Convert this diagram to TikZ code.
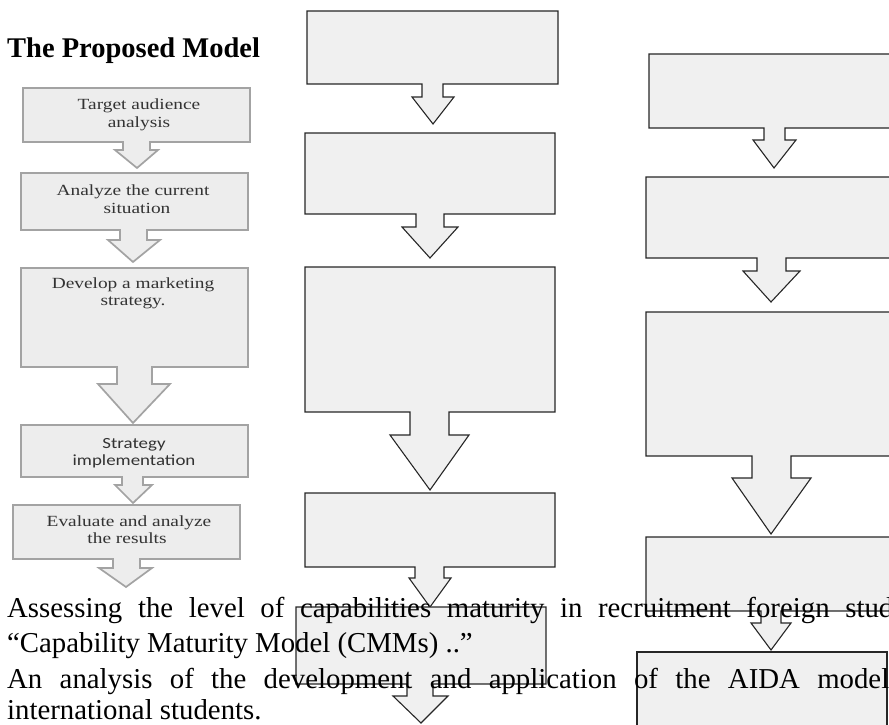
\documentclass[tikz,border=0pt]{standalone}
\usepackage{graphicx}
\usepackage{fontspec}
\setmainfont{Liberation Serif}
\newfontfamily\carl{Carlito}
\begin{document}
\begin{tikzpicture}[x=1pt,y=-1pt,
  lbox/.style={draw=black!36, line width=1.7pt, fill=black!7, line join=miter},
  mbox/.style={draw=black!85, line width=1.1pt, fill=black!6, line join=miter},
  ltext/.style={text=black!80, inner sep=0, anchor=base, font=\fontsize{15.5}{18}\selectfont},
  body/.style={anchor=base west, inner sep=0, font=\fontsize{28.8}{34}\selectfont},
]
\useasboundingbox (0,0) rectangle (889,725);

% ---------- left column (proposed model) ----------
\draw[lbox] (23,88) -- (250,88) -- (250,142) -- (150,142) -- (150,150) -- (158,150) -- (137,168) -- (115,150) -- (123,150) -- (123,142) -- (23,142) -- cycle;
\draw[lbox] (21,173) -- (248,173) -- (248,230) -- (147,230) -- (147,240) -- (160,240) -- (133,262) -- (108,240) -- (120,240) -- (120,230) -- (21,230) -- cycle;
\draw[lbox] (21,268) -- (248,268) -- (248,367) -- (152,367) -- (152,384) -- (170,384) -- (133,423) -- (98,384) -- (117,384) -- (117,367) -- (21,367) -- cycle;
\draw[lbox] (21,425) -- (248,425) -- (248,477) -- (143,477) -- (143,485) -- (152,485) -- (133,503) -- (115,485) -- (122,485) -- (122,477) -- (21,477) -- cycle;
\draw[lbox] (13,505) -- (240,505) -- (240,559) -- (140,559) -- (140,568) -- (152,568) -- (126,587) -- (99,568) -- (113,568) -- (113,559) -- (13,559) -- cycle;

\node[ltext] (l1a) at (139,110) {\scalebox{1.25}[1]{Target audience}};
\node[ltext] (l1b) at (139,127) {\scalebox{1.25}[1]{analysis}};
\node[ltext] (l2a) at (133,195) {\scalebox{1.25}[1]{Analyze the current}};
\node[ltext] (l2b) at (137,213) {\scalebox{1.25}[1]{situation}};
\node[ltext] (l3a) at (133,288) {\scalebox{1.25}[1]{Develop a marketing}};
\node[ltext] (l3b) at (133,305) {\scalebox{1.25}[1]{strategy.}};
\node[ltext, font=\carl\fontsize{15.5}{18}\selectfont] (l4a) at (134,448) {\scalebox{1.22}[1]{Strategy}};
\node[ltext, font=\carl\fontsize{15.5}{18}\selectfont] (l4b) at (134,465) {\scalebox{1.22}[1]{implementation}};
\node[ltext] (l5a) at (129,526) {\scalebox{1.25}[1]{Evaluate and analyze}};
\node[ltext] (l5b) at (127,543) {\scalebox{1.25}[1]{the results}};

% ---------- middle column ----------
\draw[mbox] (307,11) -- (558,11) -- (558,84) -- (443,84) -- (443,97) -- (454,97) -- (433,124) -- (412,97) -- (422,97) -- (422,84) -- (307,84) -- cycle;
\draw[mbox] (305,133) -- (555,133) -- (555,214) -- (444,214) -- (444,227) -- (458,227) -- (430,258) -- (402,227) -- (416,227) -- (416,214) -- (305,214) -- cycle;
\draw[mbox] (305,267) -- (555,267) -- (555,412) -- (449,412) -- (449,435) -- (469,435) -- (430,490) -- (390,435) -- (410,435) -- (410,412) -- (305,412) -- cycle;
\draw[mbox] (305,493) -- (555,493) -- (555,567) -- (444,567) -- (444,578) -- (451,578) -- (430,607) -- (409,578) -- (415,578) -- (415,567) -- (305,567) -- cycle;
\draw[mbox] (296,607) -- (546,607) -- (546,684) -- (433,684) -- (433,696) -- (448,696) -- (421,723) -- (393,696) -- (407,696) -- (407,684) -- (296,684) -- cycle;

% ---------- right column ----------
\draw[mbox] (649,54) -- (900,54) -- (900,128) -- (785,128) -- (785,140) -- (796,140) -- (774,168) -- (753,140) -- (764,140) -- (764,128) -- (649,128) -- cycle;
\draw[mbox] (646,177) -- (897,177) -- (897,258) -- (786,258) -- (786,271) -- (800,271) -- (771,302) -- (743,271) -- (757,271) -- (757,258) -- (646,258) -- cycle;
\draw[mbox] (646,312) -- (897,312) -- (897,456) -- (791,456) -- (791,478) -- (811,478) -- (771,534) -- (732,478) -- (752,478) -- (752,456) -- (646,456) -- cycle;
\draw[mbox] (646,537) -- (897,537) -- (897,611) -- (781,611) -- (781,623) -- (791,623) -- (771,650) -- (751,623) -- (761,623) -- (761,611) -- (646,611) -- cycle;
\draw[mbox] (637,652) -- (887,652) -- (887,740) -- (637,740) -- cycle;

% ---------- title and body text ----------
\node[anchor=base west, inner sep=0, font=\bfseries\fontsize{28.5}{34}\selectfont] (title) at (7,58) {The Proposed Model};
\node[body] (t1) at (7,617) {\makebox[886pt][s]{Assessing the level of capabilities maturity in recruitment foreign stud}};
\node[body] (t2) at (7,652) {“Capability Maturity Model (CMMs) ..”};
\node[body] (t3) at (7,688) {\makebox[882pt][s]{An analysis of the development and application of the AIDA model}};
\node[body] (t4) at (7,719) {international students.};
\end{tikzpicture}
\end{document}
